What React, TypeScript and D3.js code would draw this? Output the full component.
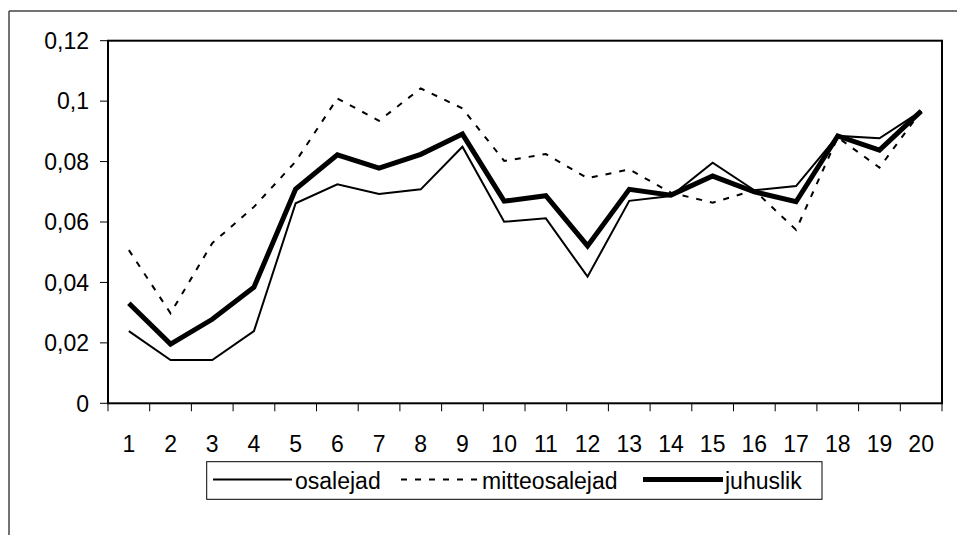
import React from "react";
import * as d3 from "d3";

const categories = ["1","2","3","4","5","6","7","8","9","10","11","12","13","14","15","16","17","18","19","20"];
const osalejad = [0.0239,0.0143,0.0143,0.0239,0.0662,0.0725,0.0693,0.0708,0.0849,0.0601,0.0612,0.0419,0.0670,0.0686,0.0796,0.0705,0.0719,0.0885,0.0877,0.0967];
const mitteosalejad = [0.0507,0.0298,0.0530,0.0650,0.0800,0.1009,0.0935,0.1042,0.0976,0.0802,0.0825,0.0745,0.0774,0.0697,0.0664,0.0705,0.0574,0.0880,0.0780,0.0967];
const juhuslik = [0.0331,0.0196,0.0278,0.0384,0.0709,0.0822,0.0778,0.0824,0.0891,0.0669,0.0687,0.0521,0.0708,0.0689,0.0752,0.0700,0.0667,0.0885,0.0838,0.0967];
const yTicks = [0,0.02,0.04,0.06,0.08,0.1,0.12];
const yTickLabels = ["0","0,02","0,04","0,06","0,08","0,1","0,12"];
const seriesNames = ["osalejad","mitteosalejad","juhuslik"];

export default function App() {
  const W = 957, H = 535;
  const left = 108, right = 942, top = 40.7, bottom = 403.3;
  const x = d3.scaleBand<string>().domain(categories).range([left, right]).padding(0);
  const y = d3.scaleLinear().domain([0, 0.12]).range([bottom, top]);
  const line = d3.line<number>().x((_, i) => (x(categories[i]) as number) + x.bandwidth() / 2).y(d => y(d));
  const font = "'Liberation Sans', Arial, sans-serif";
  const fs = 23;
  const styles = [
    { w: 2, dash: undefined as string | undefined },
    { w: 2, dash: "6,8" },
    { w: 5, dash: undefined as string | undefined },
  ];
  const data = [osalejad, mitteosalejad, juhuslik];
  const legendItems = [
    { x1: 213, x2: 292, tx: 295 },
    { x1: 401, x2: 479, tx: 482 },
    { x1: 643, x2: 723, tx: 725 },
  ];
  const boundaries = d3.range(categories.length + 1).map(i => left + i * x.step());
  return (
    <svg width={W} height={H} style={{ position: "absolute", left: 0, top: 0, background: "#fff" }} fontFamily={font}>
      <rect x={0} y={0} width={W} height={H} fill="#fff" />
      <line x1={9} y1={11} x2={W} y2={11} stroke="#444" strokeWidth={1.5} />
      <line x1={9} y1={11} x2={9} y2={H} stroke="#444" strokeWidth={1.5} />
      <rect x={left} y={top} width={right - left} height={bottom - top} fill="none" stroke="#000" strokeWidth={2} />
      {yTicks.map((t, i) => (
        <g key={"y" + i}>
          <line x1={100} x2={left} y1={y(t)} y2={y(t)} stroke="#000" strokeWidth={1} />
          <text x={89} y={y(t)} dy="0.36em" textAnchor="end" fontSize={fs} fill="#000">{yTickLabels[i]}</text>
        </g>
      ))}
      {boundaries.map((bx, i) => (
        <line key={"xt" + i} x1={bx} x2={bx} y1={bottom} y2={bottom + 8} stroke="#000" strokeWidth={1} />
      ))}
      {categories.map(c => (
        <text key={"xl" + c} x={(x(c) as number) + x.bandwidth() / 2} y={451.5} textAnchor="middle" fontSize={fs} fill="#000">{c}</text>
      ))}
      {data.map((d, i) => (
        <path key={"s" + i} d={line(d) as string} fill="none" stroke="#000" strokeWidth={styles[i].w} strokeDasharray={styles[i].dash} strokeLinejoin="miter" />
      ))}
      <rect x={206.7} y={461.7} width={615.3} height={37.6} fill="#fff" stroke="#000" strokeWidth={1} />
      {legendItems.map((it, i) => (
        <g key={"lg" + i}>
          <line x1={it.x1} x2={it.x2} y1={479.5} y2={479.5} stroke="#000" strokeWidth={styles[i].w} strokeDasharray={styles[i].dash} />
          <text x={it.tx} y={489} fontSize={fs} fill="#000">{seriesNames[i]}</text>
        </g>
      ))}
    </svg>
  );
}
